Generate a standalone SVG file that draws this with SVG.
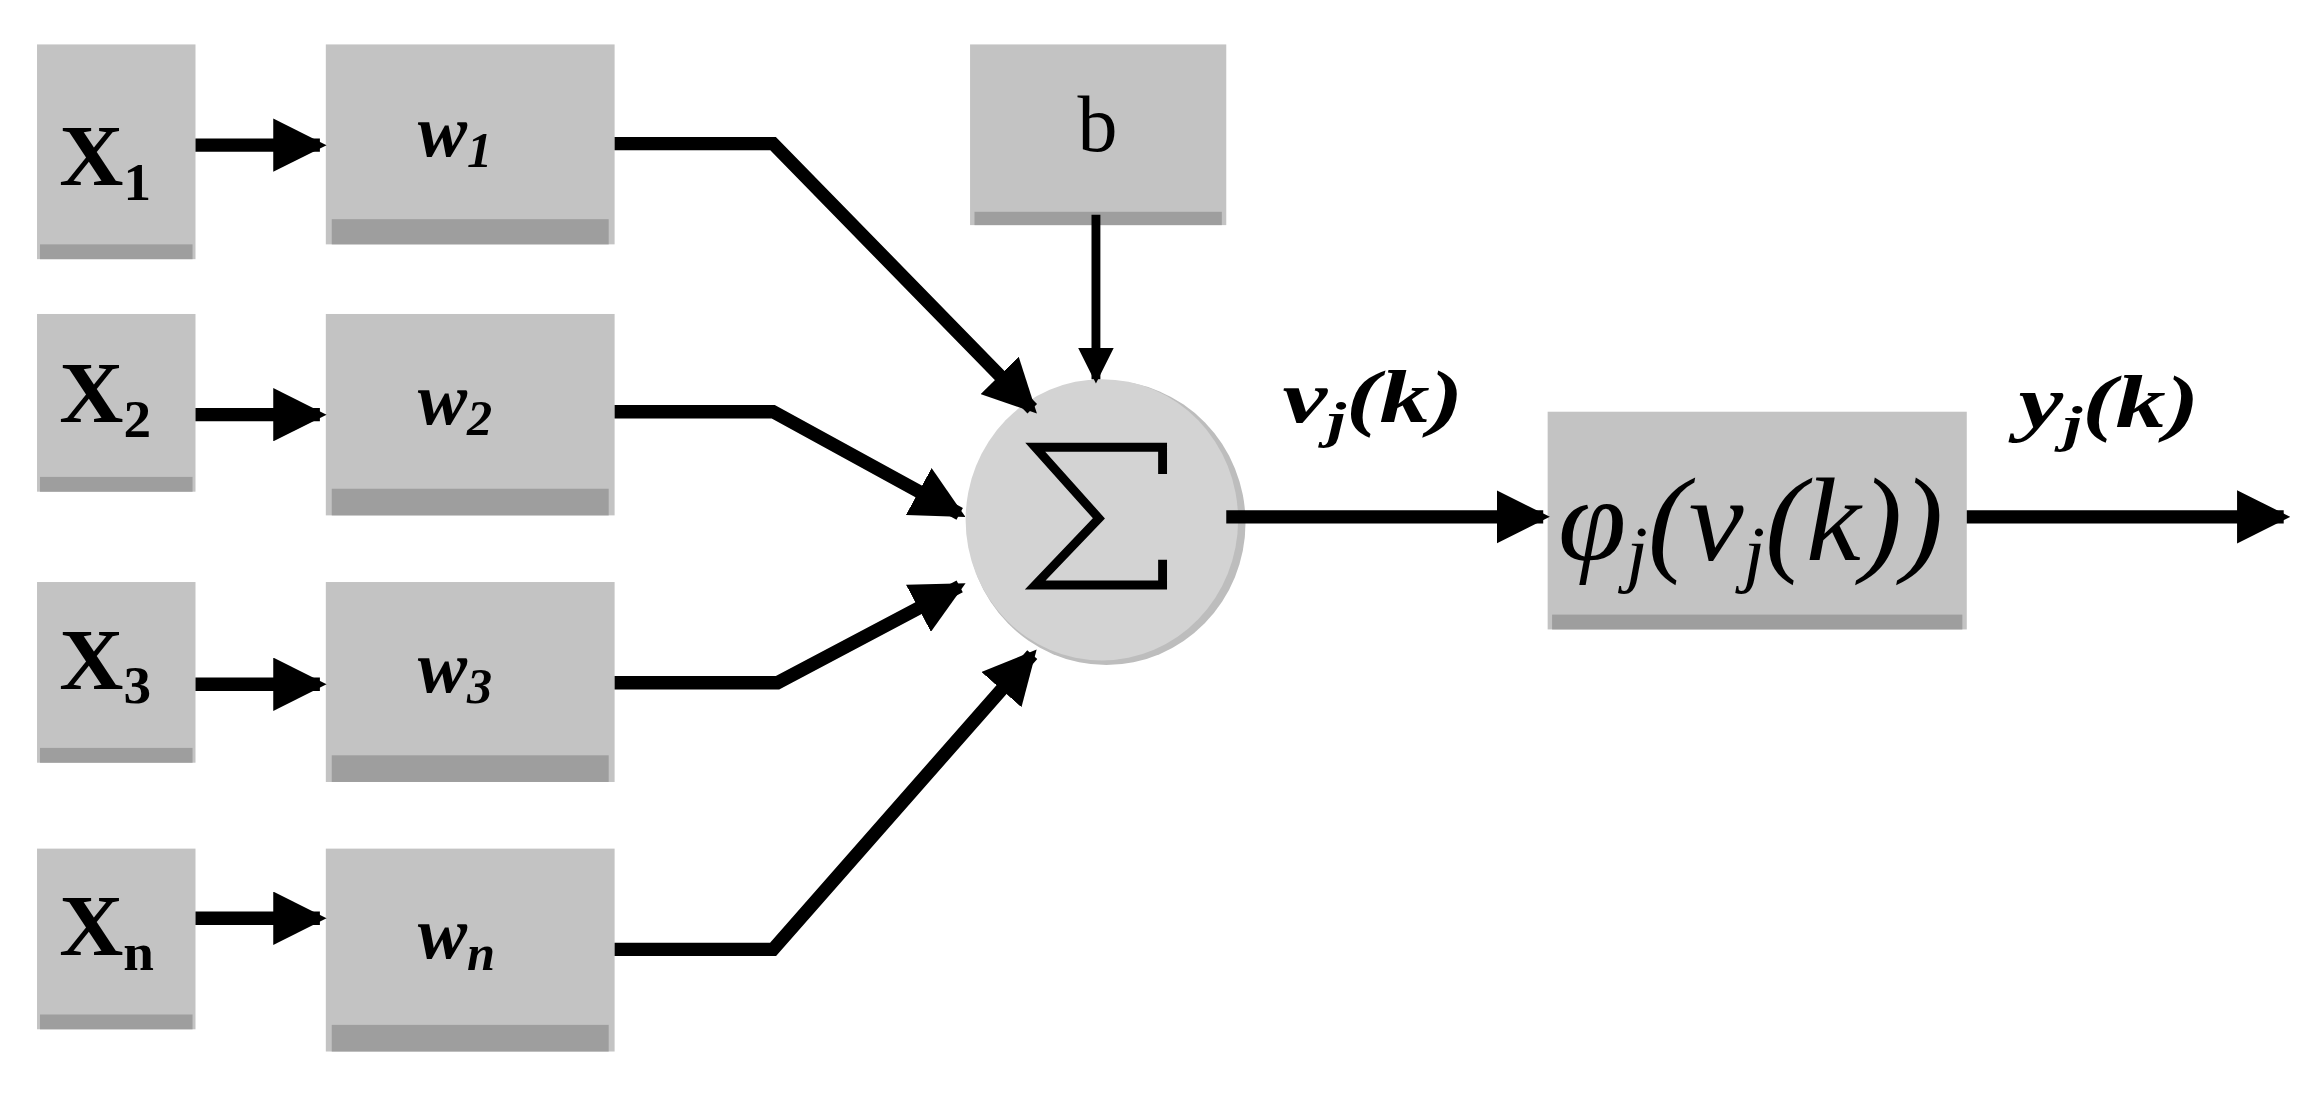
<svg xmlns="http://www.w3.org/2000/svg" width="2322" height="1099" viewBox="0 0 2322 1099">
<defs>
<style>
.box{fill:#c3c3c3}
.sh{fill:#9e9e9e}
.ln{stroke:#000;stroke-width:9;fill:none}
.t{font-family:"Liberation Serif",serif;fill:#000}
</style>
<marker id="ah" markerWidth="4" markerHeight="4" refX="3.5" refY="2" orient="auto" markerUnits="strokeWidth"><path d="M0,0 L4,2 L0,4 z" fill="#000"/></marker>
</defs>
<rect width="2322" height="1099" fill="#fff"/>
<g transform="scale(1.481)">
<g id="x1"><rect class="box" x="25" y="30" width="107" height="145"/><rect class="sh" x="27" y="165" width="103" height="10"/><text class="t" x="40" y="125" font-size="58" font-weight="bold" textLength="62" lengthAdjust="spacingAndGlyphs">X<tspan font-size="36" dy="10">1</tspan></text></g>
<g id="x2"><rect class="box" x="25" y="212" width="107" height="120"/><rect class="sh" x="27" y="322" width="103" height="10"/><text class="t" x="40" y="285" font-size="58" font-weight="bold" textLength="62" lengthAdjust="spacingAndGlyphs">X<tspan font-size="36" dy="10">2</tspan></text></g>
<g id="x3"><rect class="box" x="25" y="393" width="107" height="122"/><rect class="sh" x="27" y="505" width="103" height="10"/><text class="t" x="40" y="465" font-size="58" font-weight="bold" textLength="62" lengthAdjust="spacingAndGlyphs">X<tspan font-size="36" dy="10">3</tspan></text></g>
<g id="xn"><rect class="box" x="25" y="573" width="107" height="122"/><rect class="sh" x="27" y="685" width="103" height="10"/><text class="t" x="40" y="645" font-size="58" font-weight="bold" textLength="64" lengthAdjust="spacingAndGlyphs">X<tspan font-size="36" dy="10">n</tspan></text></g>
<g id="w1"><rect class="box" x="220" y="30" width="195" height="135"/><rect class="sh" x="224" y="148" width="187" height="17"/><text class="t" x="282" y="105" font-size="50" font-weight="bold" font-style="italic">w<tspan font-size="34" dy="8">1</tspan></text></g>
<g id="w2"><rect class="box" x="220" y="212" width="195" height="136"/><rect class="sh" x="224" y="330" width="187" height="18"/><text class="t" x="282" y="286" font-size="50" font-weight="bold" font-style="italic">w<tspan font-size="34" dy="8">2</tspan></text></g>
<g id="w3"><rect class="box" x="220" y="393" width="195" height="135"/><rect class="sh" x="224" y="510" width="187" height="18"/><text class="t" x="282" y="467" font-size="50" font-weight="bold" font-style="italic">w<tspan font-size="34" dy="8">3</tspan></text></g>
<g id="wn"><rect class="box" x="220" y="573" width="195" height="137"/><rect class="sh" x="224" y="692" width="187" height="18"/><text class="t" x="282" y="647" font-size="50" font-weight="bold" font-style="italic">w<tspan font-size="34" dy="8">n</tspan></text></g>
<g id="b"><rect class="box" x="655" y="30" width="173" height="122"/><rect class="sh" x="658" y="143" width="167" height="9"/><text class="t" x="741" y="102" font-size="54" text-anchor="middle">b</text></g>
<g id="sum"><ellipse cx="747" cy="353" rx="94" ry="96" fill="#bdbdbd"/><ellipse cx="744" cy="351" rx="92" ry="95" fill="#d3d3d3"/>
<path d="M785,320 V302 H699 L742,350 L699,395 H785 V378" stroke="#000" stroke-width="6" fill="none"/></g>
<g id="phi"><rect class="box" x="1045" y="278" width="283" height="147"/><rect class="sh" x="1048" y="415" width="277" height="10"/><text class="t" x="1052" y="378" font-size="80" font-style="italic" textLength="260" lengthAdjust="spacingAndGlyphs">φ<tspan font-size="50" dy="12">j</tspan><tspan dy="-12">(v</tspan><tspan font-size="50" dy="12">j</tspan><tspan dy="-12">(k))</tspan></text></g>
<text class="t" x="866" y="285" font-size="50" font-weight="bold" font-style="italic" textLength="122" lengthAdjust="spacingAndGlyphs">v<tspan font-size="34" dy="10">j</tspan><tspan dy="-10">(k)</tspan></text>
<text class="t" x="1363" y="288" font-size="50" font-weight="bold" font-style="italic" textLength="122" lengthAdjust="spacingAndGlyphs">y<tspan font-size="34" dy="10">j</tspan><tspan dy="-10">(k)</tspan></text>
<g id="connectors">
<line class="ln" x1="132" y1="98" x2="216" y2="98" marker-end="url(#ah)"/>
<line class="ln" x1="132" y1="280" x2="216" y2="280" marker-end="url(#ah)"/>
<line class="ln" x1="132" y1="462" x2="216" y2="462" marker-end="url(#ah)"/>
<line class="ln" x1="132" y1="620" x2="216" y2="620" marker-end="url(#ah)"/>
<polyline class="ln" points="415,97 522,97 697,276" marker-end="url(#ah)"/>
<polyline class="ln" points="415,278 522,278 648,347" marker-end="url(#ah)"/>
<polyline class="ln" points="415,461 525,461 648,396" marker-end="url(#ah)"/>
<polyline class="ln" points="415,641 522,641 697,442" marker-end="url(#ah)"/>
<line stroke="#000" stroke-width="6" x1="740" y1="145" x2="740" y2="256" marker-end="url(#ah)"/>
<line class="ln" x1="828" y1="349" x2="1042" y2="349" marker-end="url(#ah)"/>
<line class="ln" x1="1328" y1="349" x2="1542" y2="349" marker-end="url(#ah)"/>
</g>
</g>
</svg>
